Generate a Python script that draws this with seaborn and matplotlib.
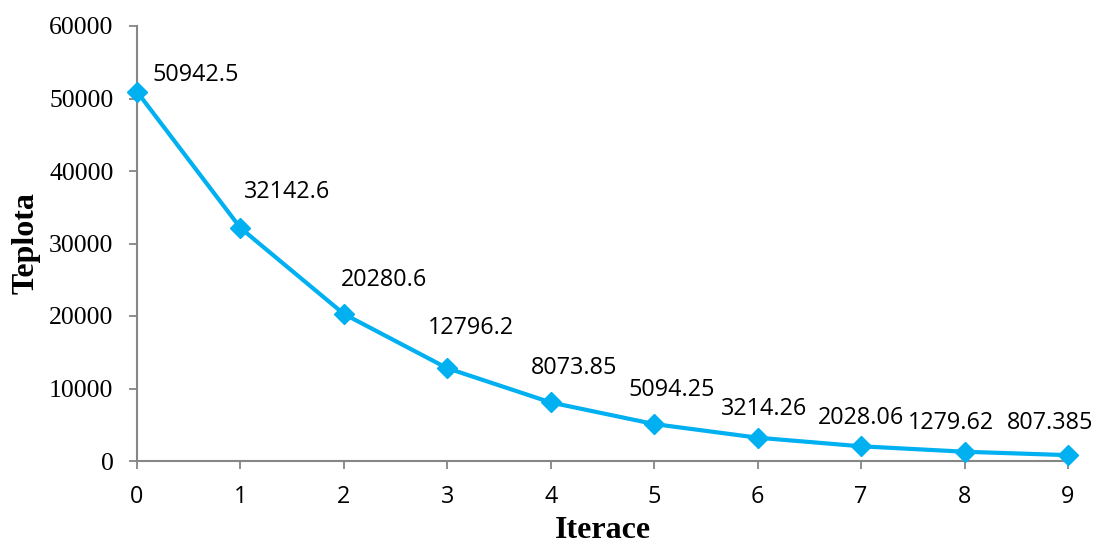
import matplotlib
matplotlib.use("Agg")
import matplotlib.pyplot as plt
import seaborn as sns
import pandas as pd

# Iteration number and the "temperature" value reached at each step
iterations = [0, 1, 2, 3, 4, 5, 6, 7, 8, 9]
temperature = [50942.5, 32142.6, 20280.6, 12796.2, 8073.85,
               5094.25, 3214.26, 2028.06, 1279.62, 807.385]
y_ticks = [0, 10000, 20000, 30000, 40000, 50000, 60000]

# Where each value label sits relative to its marker (pixels)
label_offsets = [(59, 17), (47, 36), (40, 34), (24, 40), (23, 34),
                 (17, 34), (6, 29), (0, 28), (-14, 29), (-18, 32)]

sns.set_theme(style="white")
plt.rcParams["font.family"] = ["Open Sans", "DejaVu Sans"]
plt.rcParams["text.color"] = "black"
plt.rcParams["axes.labelcolor"] = "black"
plt.rcParams["xtick.labelcolor"] = "black"
plt.rcParams["ytick.labelcolor"] = "black"

sans = ["Open Sans", "DejaVu Sans"]
serif = ["Liberation Serif", "DejaVu Serif"]

df = pd.DataFrame({"Iterace": iterations, "Teplota": temperature})

fig = plt.figure(figsize=(10.98, 5.45), dpi=100)
ax = fig.add_axes([137 / 1098, 1 - 461 / 545, (1068 - 137) / 1098, (461 - 26) / 545])

line_color = "#00B0F0"
sns.lineplot(data=df, x="Iterace", y="Teplota", ax=ax, color=line_color,
             linewidth=3, marker="D", markersize=10, markeredgecolor=line_color,
             markeredgewidth=1, clip_on=False, zorder=3)

for x, v, (dx, dy) in zip(iterations, temperature, label_offsets):
    ax.annotate(f"{v:g}", xy=(x, v), xytext=(dx, dy), textcoords="offset pixels",
                ha="center", va="center", fontsize=16.8, color="black", family=sans)

ax.set_xlim(0, 9)
ax.set_ylim(0, 60000)
ax.set_xticks(iterations)
ax.set_xticklabels([str(i) for i in iterations], fontsize=16.8, family=sans)
ax.set_yticks(y_ticks)
ax.set_yticklabels([str(t) for t in y_ticks], fontsize=18.5, family=serif)

spine_color = "#868686"
for side in ["top", "right"]:
    ax.spines[side].set_visible(False)
for side in ["left", "bottom"]:
    ax.spines[side].set_color(spine_color)
    ax.spines[side].set_linewidth(1.5)

ax.tick_params(axis="both", which="major", direction="out", length=6, width=1.3,
               color=spine_color, left=True, bottom=True)
ax.tick_params(axis="y", pad=11)
ax.tick_params(axis="x", pad=11)

ax.set_xlabel("Iterace", fontsize=23, fontweight="bold", family=serif,
              labelpad=5, color="black")
ax.set_ylabel("Teplota", fontsize=23, fontweight="bold", family=serif,
              labelpad=6, color="black")
ax.grid(False)

fig.savefig("out.png", dpi=100)
